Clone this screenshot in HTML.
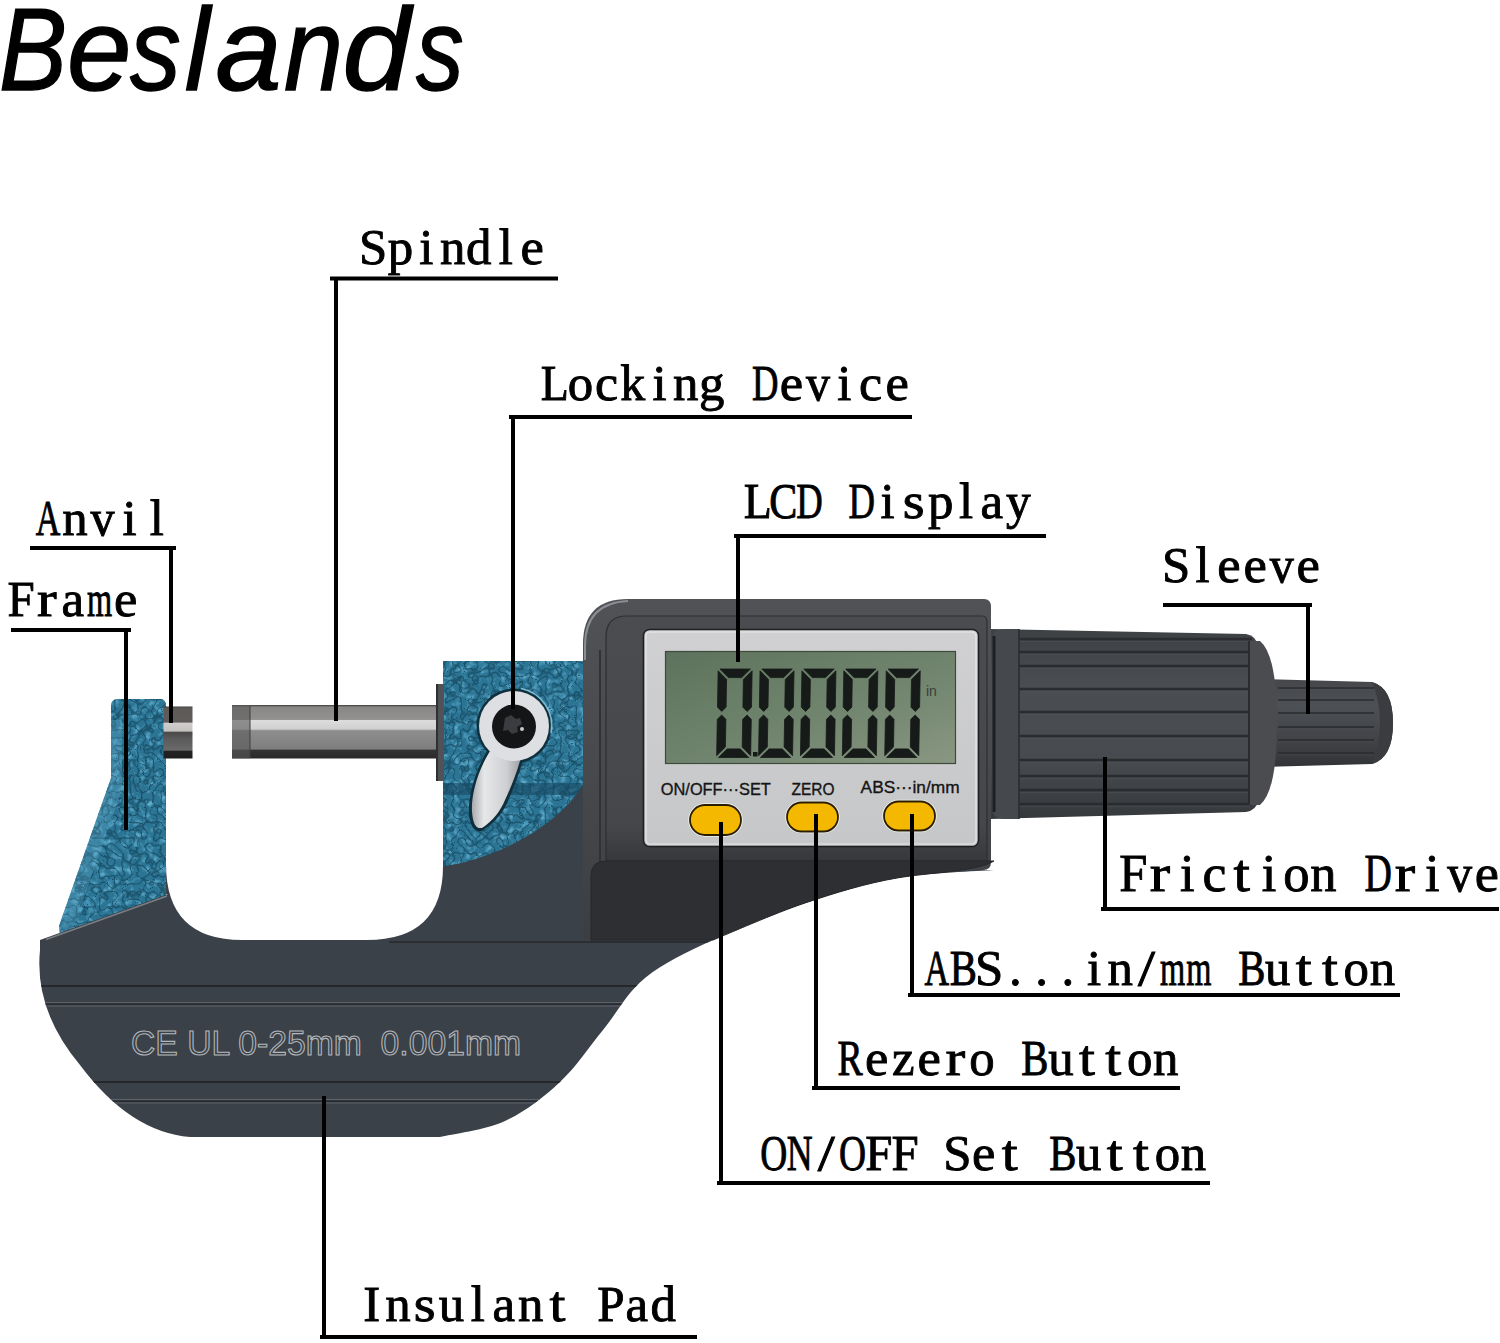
<!DOCTYPE html>
<html><head><meta charset="utf-8"><style>html,body{margin:0;padding:0;background:#fff;width:1500px;height:1343px;overflow:hidden}svg{display:block}</style></head>
<body>
<svg width="1500" height="1343" viewBox="0 0 1500 1343">
<defs>
 <linearGradient id="spG" x1="0" y1="0" x2="0" y2="1">
  <stop offset="0" stop-color="#3c3c3c"/><stop offset=".04" stop-color="#8a8886"/><stop offset=".27" stop-color="#93918f"/>
  <stop offset=".29" stop-color="#dcdcdc"/><stop offset=".45" stop-color="#d0d0d0"/><stop offset=".48" stop-color="#8e8e8e"/>
  <stop offset=".82" stop-color="#7e7e7e"/><stop offset=".85" stop-color="#333"/><stop offset="1" stop-color="#2a2a2a"/>
 </linearGradient>
 <linearGradient id="anG" x1="0" y1="0" x2="0" y2="1">
  <stop offset="0" stop-color="#3a3a3a"/><stop offset=".03" stop-color="#5e5a58"/><stop offset=".3" stop-color="#605c5a"/>
  <stop offset=".32" stop-color="#d0cdcd"/><stop offset=".47" stop-color="#c5c2c2"/><stop offset=".5" stop-color="#4c4a4a"/>
  <stop offset=".62" stop-color="#5a5a5a"/><stop offset=".84" stop-color="#6a6a6a"/><stop offset=".86" stop-color="#242424"/><stop offset="1" stop-color="#1e1e1e"/>
 </linearGradient>
 <linearGradient id="lcdG" x1="0" y1="0" x2="1" y2="1">
  <stop offset="0" stop-color="#5c725c"/><stop offset=".35" stop-color="#6a7f67"/><stop offset=".6" stop-color="#728670"/><stop offset=".9" stop-color="#84937d"/><stop offset="1" stop-color="#8a9883"/>
 </linearGradient>
 <linearGradient id="housG" x1="0" y1="0" x2="0" y2="1">
  <stop offset="0" stop-color="#505256"/><stop offset=".5" stop-color="#47494d"/><stop offset="1" stop-color="#3c3e42"/>
 </linearGradient>
 <linearGradient id="faceG" x1="0" y1="0" x2="0" y2="1">
  <stop offset="0" stop-color="#4a4c50"/><stop offset=".85" stop-color="#45474b"/><stop offset="1" stop-color="#36383c"/>
 </linearGradient>
 <linearGradient id="slvG" x1="0" y1="0" x2="0" y2="1">
  <stop offset="0" stop-color="#45474b"/><stop offset=".3" stop-color="#4d5054"/><stop offset=".7" stop-color="#414347"/><stop offset="1" stop-color="#313336"/>
 </linearGradient>
 <linearGradient id="panG" x1="0" y1="0" x2="0" y2="1">
  <stop offset="0" stop-color="#d0d0d2"/><stop offset="1" stop-color="#c6c7c9"/>
 </linearGradient>
 <linearGradient id="knobG" x1="0" y1="0" x2="0" y2="1">
  <stop offset="0" stop-color="#3e4144"/><stop offset=".3" stop-color="#4a4d51"/><stop offset=".7" stop-color="#474a4e"/><stop offset="1" stop-color="#36393c"/>
 </linearGradient>
 <linearGradient id="leverG" x1="0" y1="0" x2="1" y2="0">
  <stop offset="0" stop-color="#a8aaae"/><stop offset=".25" stop-color="#e6e7e9"/><stop offset=".7" stop-color="#cfd0d3"/><stop offset="1" stop-color="#9d9fa3"/>
 </linearGradient>
 <filter id="blueLight" x="0" y="0" width="100%" height="100%" color-interpolation-filters="sRGB">
  <feTurbulence type="fractalNoise" baseFrequency="0.15" numOctaves="2" seed="2" result="n"/>
  <feColorMatrix in="n" type="matrix" values="0 0 0 0 0.37  0 0 0 0 0.67  0 0 0 0 0.80  2.8 0 0 0 -1.3" result="c"/>
  <feComposite in="c" in2="SourceGraphic" operator="in"/>
 </filter>
 <filter id="blueDark" x="0" y="0" width="100%" height="100%" color-interpolation-filters="sRGB">
  <feTurbulence type="turbulence" baseFrequency="0.13" numOctaves="1" seed="5" result="n"/>
  <feColorMatrix in="n" type="matrix" values="0 0 0 0 0.08  0 0 0 0 0.28  0 0 0 0 0.37  -5 0 0 0 0.75" result="c"/>
  <feComposite in="c" in2="SourceGraphic" operator="in"/>
 </filter>
 <pattern id="bluePat" width="26" height="22" patternUnits="userSpaceOnUse">
  <rect width="26" height="22" fill="#2d7ba0"/>
  <path d="M3 4q4-3 8 0t2 6-7 2-3-8zM15 12q5-2 8 2t-3 6-6-2 1-6z" fill="#3f93bb" opacity=".8"/>
  <path d="M12 1q3 1 2 4M2 15q3 2 6 1" stroke="#1f5f80" stroke-width="1.3" fill="none"/>
 </pattern>
</defs>
<rect width="1500" height="1343" fill="#fff"/>

<!-- sleeve (small knob) -->
<path d="M1262 679 L1372 682 Q1393 688 1393 723 Q1393 758 1372 764 L1262 767 Z" fill="url(#slvG)"/>
<path d="M1372 682 Q1393 688 1393 723 Q1393 758 1372 764 Q1380 745 1380 723 Q1380 700 1372 682Z" fill="#3a3c40"/>
<path d="M1278 688H1374" stroke="#2a2c2f" stroke-width="1.6"/><path d="M1278 690H1374" stroke="#505357" stroke-width="0.8" opacity=".5"/><path d="M1278 700H1374" stroke="#2a2c2f" stroke-width="1.6"/><path d="M1278 702H1374" stroke="#505357" stroke-width="0.8" opacity=".5"/><path d="M1278 713H1374" stroke="#2a2c2f" stroke-width="1.6"/><path d="M1278 715H1374" stroke="#505357" stroke-width="0.8" opacity=".5"/><path d="M1278 727H1374" stroke="#2a2c2f" stroke-width="1.6"/><path d="M1278 729H1374" stroke="#505357" stroke-width="0.8" opacity=".5"/><path d="M1278 740H1374" stroke="#2a2c2f" stroke-width="1.6"/><path d="M1278 742H1374" stroke="#505357" stroke-width="0.8" opacity=".5"/><path d="M1278 753H1374" stroke="#2a2c2f" stroke-width="1.6"/><path d="M1278 755H1374" stroke="#505357" stroke-width="0.8" opacity=".5"/>
<!-- thimble / friction drive -->
<path d="M990 629 L1246 634 Q1257 636 1258 647 V800 Q1257 810 1246 812 L990 819 Z" fill="url(#knobG)"/>
<path d="M1018 639H1252" stroke="#2a2c30" stroke-width="2.6"/><path d="M1018 641.5H1250" stroke="#505357" stroke-width="1" opacity=".5"/><path d="M1018 652H1252" stroke="#2a2c30" stroke-width="2.6"/><path d="M1018 654.5H1250" stroke="#505357" stroke-width="1" opacity=".5"/><path d="M1018 666H1252" stroke="#2a2c30" stroke-width="2.6"/><path d="M1018 668.5H1250" stroke="#505357" stroke-width="1" opacity=".5"/><path d="M1018 689H1252" stroke="#2a2c30" stroke-width="2.6"/><path d="M1018 691.5H1250" stroke="#505357" stroke-width="1" opacity=".5"/><path d="M1018 712H1252" stroke="#2a2c30" stroke-width="2.6"/><path d="M1018 714.5H1250" stroke="#505357" stroke-width="1" opacity=".5"/><path d="M1018 736H1252" stroke="#2a2c30" stroke-width="2.6"/><path d="M1018 738.5H1250" stroke="#505357" stroke-width="1" opacity=".5"/><path d="M1018 760H1252" stroke="#2a2c30" stroke-width="2.6"/><path d="M1018 762.5H1250" stroke="#505357" stroke-width="1" opacity=".5"/><path d="M1018 776H1252" stroke="#2a2c30" stroke-width="2.6"/><path d="M1018 778.5H1250" stroke="#505357" stroke-width="1" opacity=".5"/><path d="M1018 790H1252" stroke="#2a2c30" stroke-width="2.6"/><path d="M1018 792.5H1250" stroke="#505357" stroke-width="1" opacity=".5"/><path d="M1018 804H1252" stroke="#2a2c30" stroke-width="2.6"/><path d="M1018 806.5H1250" stroke="#505357" stroke-width="1" opacity=".5"/>
<path d="M1249 641 H1260 Q1277 655 1277 723 Q1277 791 1260 805 H1249 Z" fill="#4a4c50"/>
<path d="M1249 641 V805" stroke="#2a2c2f" stroke-width="2"/>
<path d="M1004 629 H1019 V819 H1004 Q992 819 992 807 V641 Q992 629 1004 629Z" fill="#45484c"/>
<path d="M994 636 V812" stroke="#1d1f22" stroke-width="3"/>
<path d="M1019 629 V819" stroke="#2a2c2f" stroke-width="1.5"/>
<!-- blue left arm -->
<path d="M111 706 Q111 699 118 699 H160 Q166 699 166 706 V900 L60 935 L59 926 L111 778 Z" fill="#2b7494"/><path d="M111 706 Q111 699 118 699 H160 Q166 699 166 706 V900 L60 935 L59 926 L111 778 Z" fill="#fff" filter="url(#blueLight)"/><path d="M111 706 Q111 699 118 699 H160 Q166 699 166 706 V900 L60 935 L59 926 L111 778 Z" fill="#fff" filter="url(#blueDark)"/>
<path d="M111 778 L59 926 L60 935 L72 931 L122 790 V720 L111 720Z" fill="#6ab4d4" opacity=".28"/>
<!-- blue spindle block -->
<path d="M443 661 H592 V872 H443 Z" fill="#2b7494"/><path d="M443 661 H592 V872 H443 Z" fill="#fff" filter="url(#blueLight)"/><path d="M443 661 H592 V872 H443 Z" fill="#fff" filter="url(#blueDark)"/>
<path d="M443 783 H592 V795 H443Z" fill="#174a63" opacity=".6"/>

<!-- main gray body -->
<path d="M40 940 L168 894 L166 894 V864 Q166 940 242 940 H367 Q443 940 443 866 L445 866 C490 860 555 830 583 785 L583 870 L994 870 C977.8 871.3 928.5 872.5 897.0 878.0 C865.5 883.5 835.7 892.7 805.0 903.0 C774.3 913.3 739.7 927.5 713.0 940.0 C686.3 952.5 663.3 963.0 645.0 978.0 C626.7 993.0 617.2 1012.7 603.0 1030.0 C588.8 1047.3 576.3 1066.8 560.0 1082.0 C543.7 1097.2 525.0 1111.8 505.0 1121.0 C485.0 1130.2 450.8 1134.3 440.0 1137.0 H190 Q130 1132 80 1065 Q34 1010 40 950 Z" fill="#3a4149"/>
<!-- display housing -->
<path d="M628 599 H984 Q991 599 991 607 V862 Q991 870 983 870 H590 V940 H583 V644 Q583 599 628 599 Z" fill="url(#housG)"/>
<path d="M585 660 V646 Q585 603 628 601" stroke="#8a8d91" stroke-width="2" fill="none"/><path d="M600 650 V940" stroke="#303236" stroke-width="2"/>
<path d="M627 616 H982 Q987 616 987 622 V861 H606 V637 Q606 616 627 616 Z" fill="url(#faceG)" stroke="#2c2f32" stroke-width="1.2"/>
<path d="M591 940 V876 Q591 861 606 861 H994 C977.8 871.3 928.5 872.5 897.0 878.0 C865.5 883.5 835.7 892.7 805.0 903.0 C774.3 913.3 728.3 933.8 713.0 940.0 Z" fill="#2d2f33" stroke="#26282b" stroke-width="1"/>
<clipPath id="baseClip"><path d="M40 940 L168 894 L166 894 V864 Q166 940 242 940 H367 Q443 940 443 866 L583 787 L583 870 L994 870 C977.8 871.3 928.5 872.5 897.0 878.0 C865.5 883.5 835.7 892.7 805.0 903.0 C774.3 913.3 739.7 927.5 713.0 940.0 C686.3 952.5 663.3 963.0 645.0 978.0 C626.7 993.0 617.2 1012.7 603.0 1030.0 C588.8 1047.3 576.3 1066.8 560.0 1082.0 C543.7 1097.2 525.0 1111.8 505.0 1121.0 C485.0 1130.2 450.8 1134.3 440.0 1137.0 H190 Q130 1132 80 1065 Q34 1010 40 950 Z"/></clipPath>
<g clip-path="url(#baseClip)">
<!-- base grooves -->
<path d="M389 942 H994" stroke="#2a2d31" stroke-width="2"/>
<path d="M46 939.5 L167 896" stroke="#7a7e82" stroke-width="1.6"/>
<path d="M30 986 H660" stroke="#25282b" stroke-width="2"/>
<path d="M30 1002.5 H640M30 1006 H640" stroke="#5e636a" stroke-width="1.2"/><path d="M30 1004.2 H640" stroke="#22262b" stroke-width="1.2"/>
<path d="M60 1082 H600" stroke="#25282b" stroke-width="2"/>
<path d="M60 1099.5 H600M60 1103 H600" stroke="#5e636a" stroke-width="1.2"/><path d="M60 1101.2 H600" stroke="#22262b" stroke-width="1.2"/>
</g>
<text x="131" y="1055" font-family="Liberation Sans" font-size="35" fill="none" stroke="#b4b7ba" stroke-width="1.1" textLength="390" lengthAdjust="spacingAndGlyphs" xml:space="preserve">CE UL 0-25mm&#160; 0.001mm</text>

<!-- silver panel -->
<rect x="643.5" y="629.5" width="335" height="217" rx="6" fill="url(#panG)" stroke="#1e1f21" stroke-width="1.6"/><rect x="646" y="632" width="330" height="212" rx="4" fill="none" stroke="#eceded" stroke-width="1.2" opacity=".8"/>
<rect x="665" y="651" width="291" height="113" fill="url(#lcdG)"/><rect x="665.5" y="651.5" width="290" height="112" fill="none" stroke="#3d4a3c" stroke-width="1.2"/>
<path d="M719.1999999999999 669 H749.6 L741.0 677.6 H727.8 ZM719.1999999999999 757.5 H749.6 L741.0 748.9 H727.8 ZM717.4 670.8 L726.0 679.4 V707.1500000000001 L721.6999999999999 711.45 L717.4 707.1500000000001 ZM717.4 755.7 L726.0 747.1 V719.3499999999999 L721.6999999999999 715.05 L717.4 719.3499999999999 ZM751.4 670.8 L742.8 679.4 V707.1500000000001 L747.1 711.45 L751.4 707.1500000000001 ZM751.4 755.7 L742.8 747.1 V719.3499999999999 L747.1 715.05 L751.4 719.3499999999999 ZM761.0999999999999 669 H791.5 L782.9 677.6 H769.6999999999999 ZM761.0999999999999 757.5 H791.5 L782.9 748.9 H769.6999999999999 ZM759.3 670.8 L767.9 679.4 V707.1500000000001 L763.5999999999999 711.45 L759.3 707.1500000000001 ZM759.3 755.7 L767.9 747.1 V719.3499999999999 L763.5999999999999 715.05 L759.3 719.3499999999999 ZM793.3 670.8 L784.6999999999999 679.4 V707.1500000000001 L789.0 711.45 L793.3 707.1500000000001 ZM793.3 755.7 L784.6999999999999 747.1 V719.3499999999999 L789.0 715.05 L793.3 719.3499999999999 ZM803.0 669 H833.4000000000001 L824.8000000000001 677.6 H811.6 ZM803.0 757.5 H833.4000000000001 L824.8000000000001 748.9 H811.6 ZM801.2 670.8 L809.8000000000001 679.4 V707.1500000000001 L805.5 711.45 L801.2 707.1500000000001 ZM801.2 755.7 L809.8000000000001 747.1 V719.3499999999999 L805.5 715.05 L801.2 719.3499999999999 ZM835.2 670.8 L826.6 679.4 V707.1500000000001 L830.9000000000001 711.45 L835.2 707.1500000000001 ZM835.2 755.7 L826.6 747.1 V719.3499999999999 L830.9000000000001 715.05 L835.2 719.3499999999999 ZM844.9 669 H875.3000000000001 L866.7 677.6 H853.5 ZM844.9 757.5 H875.3000000000001 L866.7 748.9 H853.5 ZM843.1 670.8 L851.7 679.4 V707.1500000000001 L847.4 711.45 L843.1 707.1500000000001 ZM843.1 755.7 L851.7 747.1 V719.3499999999999 L847.4 715.05 L843.1 719.3499999999999 ZM877.1 670.8 L868.5 679.4 V707.1500000000001 L872.8000000000001 711.45 L877.1 707.1500000000001 ZM877.1 755.7 L868.5 747.1 V719.3499999999999 L872.8000000000001 715.05 L877.1 719.3499999999999 ZM887.3 669 H917.7 L909.1 677.6 H895.9 ZM887.3 757.5 H917.7 L909.1 748.9 H895.9 ZM885.5 670.8 L894.1 679.4 V707.1500000000001 L889.8 711.45 L885.5 707.1500000000001 ZM885.5 755.7 L894.1 747.1 V719.3499999999999 L889.8 715.05 L885.5 719.3499999999999 ZM919.5 670.8 L910.9 679.4 V707.1500000000001 L915.2 711.45 L919.5 707.1500000000001 ZM919.5 755.7 L910.9 747.1 V719.3499999999999 L915.2 715.05 L919.5 719.3499999999999 Z" fill="#161a19" stroke="#161a19" stroke-width="0.8" stroke-linejoin="round" transform="translate(12.44 0) skewX(-1)"/>
<rect x="753" y="752" width="4.5" height="4.5" fill="#161a19"/>
<text x="926" y="696" font-family="Liberation Sans" font-size="14" fill="#3a3f3a">in</text>
<text x="660.8" y="795" font-family="Liberation Sans" font-size="17" fill="#151515" stroke="#151515" stroke-width="0.35" textLength="110" lengthAdjust="spacingAndGlyphs">ON/OFF···SET</text>
<text x="791.6" y="795" font-family="Liberation Sans" font-size="17" fill="#151515" stroke="#151515" stroke-width="0.35" textLength="43" lengthAdjust="spacingAndGlyphs">ZERO</text>
<text x="860.6" y="793" font-family="Liberation Sans" font-size="17" fill="#151515" stroke="#151515" stroke-width="0.35" textLength="99" lengthAdjust="spacingAndGlyphs">ABS···in/mm</text>
<rect x="689" y="804" width="53" height="32" rx="16" fill="none" stroke="#f2f2f2" stroke-width="1.5"/><rect x="690" y="805" width="51" height="30" rx="15" fill="#f5b800" stroke="#2a1e00" stroke-width="1.8"/>
<rect x="786" y="801.5" width="53" height="31" rx="15.5" fill="none" stroke="#f2f2f2" stroke-width="1.5"/><rect x="787" y="802.5" width="51" height="29" rx="14.5" fill="#f5b800" stroke="#2a1e00" stroke-width="1.8"/>
<rect x="883" y="800.5" width="53" height="31" rx="15.5" fill="none" stroke="#f2f2f2" stroke-width="1.5"/><rect x="884" y="801.5" width="51" height="29" rx="14.5" fill="#f5b800" stroke="#2a1e00" stroke-width="1.8"/>

<!-- spindle -->
<rect x="232" y="705" width="205" height="53.5" fill="url(#spG)"/>
<rect x="232" y="705" width="18" height="53.5" fill="#5a5a5a" opacity=".6"/><path d="M250 706V758" stroke="#3e3e3e" stroke-width="1"/>
<rect x="436" y="684" width="8" height="97" fill="#505255"/><rect x="436" y="684" width="2" height="97" fill="#2e3033"/>
<!-- anvil -->
<rect x="163.5" y="706.5" width="29" height="52" fill="url(#anG)"/>

<!-- lock -->
<circle cx="514" cy="726" r="37.5" fill="#10303d"/>
<path d="M521 688.5 A38 38 0 0 1 551 733" stroke="#8fcfe6" stroke-width="1.6" fill="none" opacity=".8"/>
<path d="M488 749 C475 771 468 796 469 813 C470 827 475 833 482 831 C495 823 504 811 508 801 C514 787 520 772 524 756 Z" fill="#0f2f3c"/>
<path d="M490 751 C477 772 471 796 472 812 C473 824 476 829 482 828 C493 821 501 810 505 800 C511 787 517 773 521 757 Z" fill="url(#leverG)"/>
<circle cx="514" cy="726" r="35" fill="#dedfe2"/>
<circle cx="514" cy="726.5" r="22" fill="#141517"/>
<path d="M505 718 l6 -3 5 4 4 -1 2 6 -5 3 1 5 -6 2 -4 -4 -5 1z" fill="#3b3c40"/>
<circle cx="522" cy="729" r="2" fill="#c8c8c8"/>
<!-- leader lines -->
<path d="M332 278.5H556M336 278.5V719 M511 417H910M513 417V707 M32 548H174M171 548V721 M13 630H129M126 630V828 M736 536H1044M738 536V660 M1165 605H1310M1308 605V712 M1105 759V909M1103 909H1497 M912 816V995M910 995H1398 M816 816V1088M814 1088H1178 M721 824V1183M719 1183H1208 M324 1098V1337M322 1337H695" stroke="#000" stroke-width="4" fill="none" stroke-linecap="square"/>
<g font-family="Liberation Serif" font-size="50.8" fill="#000" stroke="#000" stroke-width="0.9">
<text x="359.1" y="263.7">S</text>
<text x="387.7" y="263.7">p</text>
<text x="419.2" y="263.7">i</text>
<text x="439.9" y="263.7">n</text>
<text x="466.0" y="263.7">d</text>
<text x="498.7" y="263.7">l</text>
<text transform="translate(532.2 263.7) scale(1.037 1)" x="-11.4">e</text>
<text transform="translate(554.0 400.4) scale(0.905 1)" x="-14.7">L</text>
<text x="567.7" y="400.4">o</text>
<text transform="translate(606.8 400.4) scale(1.024 1)" x="-11.5">c</text>
<text transform="translate(633.2 400.4) scale(0.982 1)" x="-13.2">k</text>
<text x="652.5" y="400.4">i</text>
<text x="673.1" y="400.4">n</text>
<text x="699.1" y="400.4">g</text>
<text transform="translate(765.2 400.4) scale(0.723 1)" x="-18.1">D</text>
<text transform="translate(791.6 400.4) scale(1.037 1)" x="-11.4">e</text>
<text transform="translate(818.0 400.4) scale(0.945 1)" x="-12.7">v</text>
<text x="837.3" y="400.4">i</text>
<text transform="translate(870.8 400.4) scale(1.024 1)" x="-11.5">c</text>
<text transform="translate(897.2 400.4) scale(1.037 1)" x="-11.4">e</text>
<text transform="translate(48.0 535.0) scale(0.670 1)" x="-18.4">A</text>
<text x="62.3" y="535.0">n</text>
<text transform="translate(102.4 535.0) scale(0.945 1)" x="-12.7">v</text>
<text x="122.5" y="535.0">i</text>
<text x="149.7" y="535.0">l</text>
<text transform="translate(20.8 615.7) scale(0.962 1)" x="-13.9">F</text>
<text transform="translate(47.1 615.7) scale(1.165 1)" x="-8.7">r</text>
<text x="61.6" y="615.7">a</text>
<text transform="translate(99.7 615.7) scale(0.637 1)" x="-19.9">m</text>
<text transform="translate(125.9 615.7) scale(1.037 1)" x="-11.4">e</text>
<text transform="translate(757.0 517.6) scale(0.905 1)" x="-14.7">L</text>
<text transform="translate(783.1 517.6) scale(0.828 1)" x="-16.6">C</text>
<text transform="translate(809.3 517.6) scale(0.723 1)" x="-18.1">D</text>
<text transform="translate(861.6 517.6) scale(0.723 1)" x="-18.1">D</text>
<text x="880.6" y="517.6">i</text>
<text transform="translate(913.9 517.6) scale(1.104 1)" x="-10.0">s</text>
<text x="927.9" y="517.6">p</text>
<text x="959.1" y="517.6">l</text>
<text x="980.5" y="517.6">a</text>
<text transform="translate(1018.5 517.6) scale(0.976 1)" x="-12.9">y</text>
<text x="1161.9" y="582.0">S</text>
<text x="1195.5" y="582.0">l</text>
<text transform="translate(1229.0 582.0) scale(1.037 1)" x="-11.4">e</text>
<text transform="translate(1255.4 582.0) scale(1.037 1)" x="-11.4">e</text>
<text transform="translate(1281.8 582.0) scale(0.945 1)" x="-12.7">v</text>
<text transform="translate(1308.2 582.0) scale(1.037 1)" x="-11.4">e</text>
<text transform="translate(1133.0 891.2) scale(0.962 1)" x="-14.4" font-size="52.5">F</text>
<text transform="translate(1160.2 891.2) scale(1.165 1)" x="-9.0" font-size="52.5">r</text>
<text x="1180.1" y="891.2" font-size="52.5">i</text>
<text transform="translate(1214.7 891.2) scale(1.024 1)" x="-11.8" font-size="52.5">c</text>
<text transform="translate(1241.9 891.2) scale(1.126 1)" x="-7.4" font-size="52.5">t</text>
<text x="1261.8" y="891.2" font-size="52.5">i</text>
<text x="1283.2" y="891.2" font-size="52.5">o</text>
<text x="1310.2" y="891.2" font-size="52.5">n</text>
<text transform="translate(1378.0 891.2) scale(0.723 1)" x="-18.7" font-size="52.5">D</text>
<text transform="translate(1405.2 891.2) scale(1.165 1)" x="-9.0" font-size="52.5">r</text>
<text x="1425.1" y="891.2" font-size="52.5">i</text>
<text transform="translate(1459.7 891.2) scale(0.945 1)" x="-13.1" font-size="52.5">v</text>
<text transform="translate(1486.9 891.2) scale(1.037 1)" x="-11.8" font-size="52.5">e</text>
<text transform="translate(936.7 984.8) scale(0.670 1)" x="-18.4">A</text>
<text transform="translate(962.9 984.8) scale(0.802 1)" x="-16.4">B</text>
<text x="974.9" y="984.8">S</text>
<text x="1009.0" y="984.8">.</text>
<text x="1035.3" y="984.8">.</text>
<text x="1061.5" y="984.8">.</text>
<text x="1087.0" y="984.8">i</text>
<text x="1107.4" y="984.8">n</text>
<text transform="translate(1146.5 984.8) scale(1.204 1)" x="-7.1">/</text>
<text transform="translate(1172.7 984.8) scale(0.637 1)" x="-19.9">m</text>
<text transform="translate(1199.0 984.8) scale(0.637 1)" x="-19.9">m</text>
<text transform="translate(1251.4 984.8) scale(0.802 1)" x="-16.4">B</text>
<text x="1265.1" y="984.8">u</text>
<text transform="translate(1303.9 984.8) scale(1.126 1)" x="-7.2">t</text>
<text transform="translate(1330.1 984.8) scale(1.126 1)" x="-7.2">t</text>
<text x="1343.6" y="984.8">o</text>
<text x="1369.7" y="984.8">n</text>
<text transform="translate(850.6 1074.8) scale(0.742 1)" x="-17.6">R</text>
<text transform="translate(876.9 1074.8) scale(1.037 1)" x="-11.4">e</text>
<text x="891.9" y="1074.8">z</text>
<text transform="translate(929.4 1074.8) scale(1.037 1)" x="-11.4">e</text>
<text transform="translate(955.7 1074.8) scale(1.165 1)" x="-8.7">r</text>
<text x="969.3" y="1074.8">o</text>
<text transform="translate(1034.5 1074.8) scale(0.802 1)" x="-16.4">B</text>
<text x="1048.2" y="1074.8">u</text>
<text transform="translate(1087.1 1074.8) scale(1.126 1)" x="-7.2">t</text>
<text transform="translate(1113.3 1074.8) scale(1.126 1)" x="-7.2">t</text>
<text x="1126.9" y="1074.8">o</text>
<text x="1153.0" y="1074.8">n</text>
<text transform="translate(773.7 1169.7) scale(0.738 1)" x="-18.3">O</text>
<text transform="translate(799.9 1169.7) scale(0.705 1)" x="-18.5">N</text>
<text transform="translate(826.2 1169.7) scale(1.204 1)" x="-7.1">/</text>
<text transform="translate(852.4 1169.7) scale(0.738 1)" x="-18.3">O</text>
<text transform="translate(878.7 1169.7) scale(0.962 1)" x="-13.9">F</text>
<text transform="translate(904.9 1169.7) scale(0.962 1)" x="-13.9">F</text>
<text x="943.2" y="1169.7">S</text>
<text transform="translate(983.7 1169.7) scale(1.037 1)" x="-11.4">e</text>
<text transform="translate(1009.9 1169.7) scale(1.126 1)" x="-7.2">t</text>
<text transform="translate(1062.4 1169.7) scale(0.802 1)" x="-16.4">B</text>
<text x="1076.1" y="1169.7">u</text>
<text transform="translate(1114.9 1169.7) scale(1.126 1)" x="-7.2">t</text>
<text transform="translate(1141.2 1169.7) scale(1.126 1)" x="-7.2">t</text>
<text x="1154.7" y="1169.7">o</text>
<text x="1180.8" y="1169.7">n</text>
<text x="363.2" y="1320.6">I</text>
<text x="385.3" y="1320.6">n</text>
<text transform="translate(424.8 1320.6) scale(1.104 1)" x="-10.0">s</text>
<text x="438.7" y="1320.6">u</text>
<text x="470.8" y="1320.6">l</text>
<text x="492.6" y="1320.6">a</text>
<text x="518.1" y="1320.6">n</text>
<text transform="translate(557.5 1320.6) scale(1.126 1)" x="-7.2">t</text>
<text transform="translate(610.6 1320.6) scale(0.969 1)" x="-13.8">P</text>
<text x="625.4" y="1320.6">a</text>
<text x="650.4" y="1320.6">d</text>
</g>
<g font-family="Liberation Sans" font-style="italic" font-size="116" fill="#000" stroke="#000" stroke-width="1.4">
<text transform="translate(1.6 90) scale(0.879 1)" x="-3">B</text>
<text transform="translate(70.0 90) scale(1.000 1)" x="-3">e</text>
<text transform="translate(130.0 90) scale(0.875 1)" x="0">s</text>
<text transform="translate(185.6 90) scale(0.971 1)" x="-1">l</text>
<text transform="translate(217.6 90) scale(1.024 1)" x="-2">a</text>
<text transform="translate(285.0 90) scale(0.915 1)" x="-1">n</text>
<text transform="translate(345.6 90) scale(1.052 1)" x="-3">d</text>
<text transform="translate(416.0 90) scale(0.821 1)" x="0">s</text>
</g>
</svg></body></html>
